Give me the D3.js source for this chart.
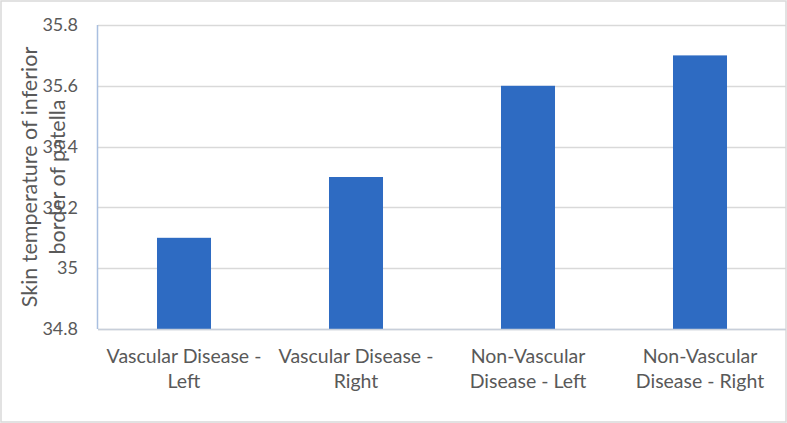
<!DOCTYPE html>
<html><head><meta charset="utf-8">
<script src="https://cdn.jsdelivr.net/npm/d3@7"></script>
<style>body{margin:0;background:#fff}svg{display:block}text{font-family:Lato,Carlito,"Open Sans",sans-serif}</style>
</head><body>
<svg id="c" width="787" height="423"></svg>
<script>
const categories = [
  ["Vascular Disease -", "Left"],
  ["Vascular Disease -", "Right"],
  ["Non-Vascular", "Disease - Left"],
  ["Non-Vascular", "Disease - Right"]
];
const values = [35.1, 35.3, 35.6, 35.7];
const yTicks = [34.8, 35, 35.2, 35.4, 35.6, 35.8];
const yTitle = ["Skin temperature of inferior", "border of patella"];

const svg = d3.select("#c");
svg.append("rect").attr("x",1).attr("y",1).attr("width",785).attr("height",421)
  .attr("fill","#fff").attr("stroke","#D9D9D9").attr("stroke-width",1.5);

const L=98, R=786, T=25, B=329;
const x = d3.scaleBand().domain(d3.range(values.length)).range([L,R]).paddingInner(0.686).paddingOuter(0.343);
const y = d3.scaleLinear().domain([34.8,35.8]).range([B,T]);

// gridlines
svg.append("g").selectAll("line").data(yTicks).join("line")
  .attr("x1",L).attr("x2",R).attr("y1",d=>Math.round(y(d))+0.5).attr("y2",d=>Math.round(y(d))+0.5)
  .attr("stroke","#D9D9D9").attr("stroke-width",1.5);

// y axis labels
const yAxis = d3.axisLeft(y).tickValues(yTicks).tickSize(0).tickPadding(20).tickFormat(d=>d3.format("")(+d.toFixed(1)));
const gy = svg.append("g").attr("transform",`translate(${L},0)`).call(yAxis);
gy.select(".domain").remove();
gy.selectAll("text").attr("font-size",18).attr("fill","#595959").attr("font-family","Lato, sans-serif");

// bars
svg.append("g").selectAll("rect").data(values).join("rect")
  .attr("x",(d,i)=>x(i)).attr("width",x.bandwidth())
  .attr("y",d=>y(d)).attr("height",d=>y(34.8)-y(d))
  .attr("fill","#2E6BC2");

// left axis line
svg.append("line").attr("x1",L-0.5).attr("x2",L-0.5).attr("y1",T).attr("y2",B)
  .attr("stroke","#A9BFE0").attr("stroke-width",1.5);
// bottom axis line
svg.append("line").attr("x1",L).attr("x2",R).attr("y1",B+0.5).attr("y2",B+0.5)
  .attr("stroke","#C8CFDA").attr("stroke-width",1.5);

// x labels
const gx = svg.append("g");
categories.forEach((c,i)=>{
  const t = gx.append("text").attr("x",x(i)+x.bandwidth()/2).attr("y",363)
    .attr("text-anchor","middle").attr("font-size",19.5).attr("fill","#595959");
  c.forEach((line,j)=>t.append("tspan").attr("x",x(i)+x.bandwidth()/2).attr("dy",j?25:0).text(line));
});

// y title
const yt = svg.append("text").attr("transform",`translate(0,${(T+B)/2}) rotate(-90)`)
  .attr("text-anchor","middle").attr("font-size",21.5).attr("fill","#595959");
yTitle.forEach((line,j)=>yt.append("tspan").attr("x",0).attr("y",j?65:37).text(line));
</script>
</body></html>
